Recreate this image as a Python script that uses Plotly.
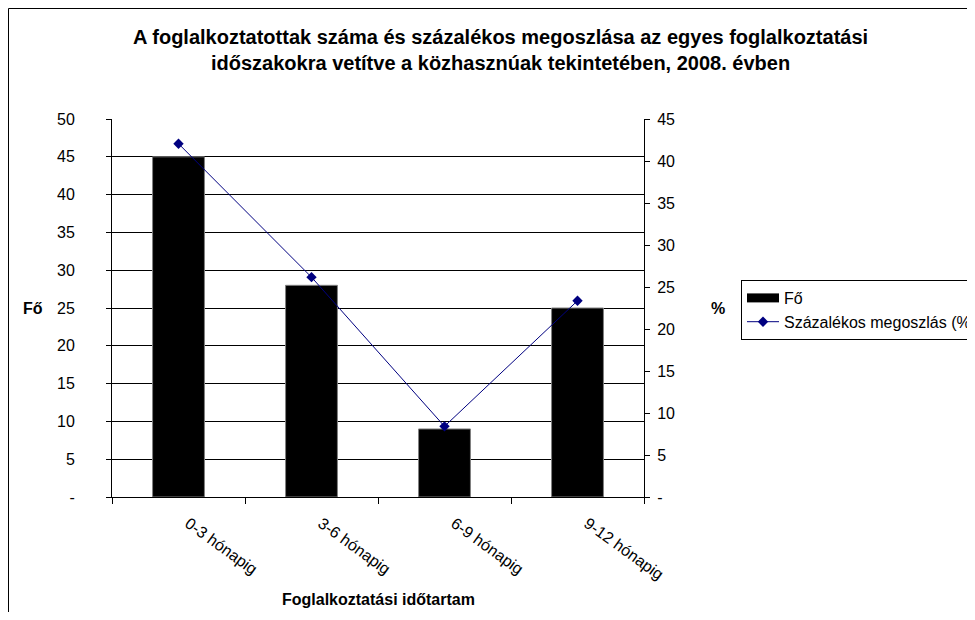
import plotly.graph_objects as go

categories = ["0-3 hónapig", "3-6 hónapig", "6-9 hónapig", "9-12 hónapig"]
fo_values = [45, 28, 9, 25]
pct_values = [42.06, 26.17, 8.41, 23.36]
left_ticks = [0, 5, 10, 15, 20, 25, 30, 35, 40, 45, 50]
left_ticktext = ["-", "5", "10", "15", "20", "25", "30", "35", "40", "45", "50"]
right_ticks = [0, 5, 10, 15, 20, 25, 30, 35, 40, 45]
right_ticktext = ["-", "5", "10", "15", "20", "25", "30", "35", "40", "45"]

FONT = "Liberation Sans, Arial, sans-serif"
OFF = 8  # page body margin

W, H = 959, 604
L, R, T, B = 104, 323, 111, 115
pw = W - L - R
ph = H - T - B


def px_x(x):
    return (x - OFF - L) / pw


def px_y(y):
    return (H - B - (y - OFF)) / ph


fig = go.Figure()
fig.add_trace(go.Bar(
    x=categories, y=fo_values, name="Fő",
    marker=dict(color="black", line=dict(color="#808080", width=1)),
    width=0.39, yaxis="y", showlegend=False,
))
# legend swatch for the bars (wide black rectangle, as in the original)
fig.add_trace(go.Scatter(
    x=[None], y=[None], name="Fő", mode="lines",
    line=dict(color="black", width=9), yaxis="y", showlegend=True,
))
fig.add_trace(go.Scatter(
    x=categories, y=pct_values, name="Százalékos megoszlás (%)",
    mode="lines+markers",
    line=dict(color="#000080", width=1),
    marker=dict(symbol="diamond", size=8, color="#000080"),
    yaxis="y2",
))

fig.update_layout(
    width=W, height=H,
    margin=dict(l=L, r=R, t=T, b=B, autoexpand=False),
    paper_bgcolor="white", plot_bgcolor="white",
    font=dict(family=FONT, size=16, color="black"),
    showlegend=True,
    legend=dict(
        x=px_x(741), y=px_y(280), xanchor="left", yanchor="top",
        bordercolor="black", borderwidth=1,
        font=dict(size=16, family=FONT),
        itemwidth=32,
    ),
    xaxis=dict(
        type="category", range=[-0.5, 3.5],
        tickson="boundaries", ticks="outside", ticklen=6, tickcolor="black",
        showline=True, linecolor="black", linewidth=1,
        tickangle=36, tickfont=dict(size=16),
        ticklabelstandoff=10, ticklabelshift=10,
        showgrid=False, zeroline=False, automargin=False,
    ),
    yaxis=dict(
        range=[0, 50], tickvals=left_ticks, ticktext=left_ticktext,
        ticks="outside", ticklen=5, tickcolor="black",
        showline=True, linecolor="black", linewidth=1,
        showgrid=True, gridcolor="black", gridwidth=1,
        zeroline=False, tickfont=dict(size=16), ticklabelstandoff=28,
        automargin=False,
    ),
    yaxis2=dict(
        range=[0, 45], tickvals=right_ticks, ticktext=right_ticktext,
        overlaying="y", side="right",
        ticks="outside", ticklen=5, tickcolor="black",
        showline=True, linecolor="black", linewidth=1,
        showgrid=False, zeroline=False, tickfont=dict(size=16),
        ticklabelstandoff=4, automargin=False,
    ),
)

fig.add_annotation(
    text="<b>A foglalkoztatottak száma és százalékos megoszlása az egyes foglalkoztatási<br>időszakokra vetítve a közhasznúak tekintetében, 2008. évben</b>",
    xref="paper", yref="paper", x=px_x(500), y=px_y(50),
    showarrow=False, font=dict(size=20, family=FONT), align="center",
    xanchor="center", yanchor="middle",
)
fig.add_annotation(text="<b>Fő</b>", xref="paper", yref="paper",
                   x=px_x(33), y=px_y(308), showarrow=False,
                   font=dict(size=16, family=FONT), xanchor="center", yanchor="middle")
fig.add_annotation(text="<b>%</b>", xref="paper", yref="paper",
                   x=px_x(718), y=px_y(308), showarrow=False,
                   font=dict(size=16, family=FONT), xanchor="center", yanchor="middle")
fig.add_annotation(text="<b>Foglalkoztatási időtartam</b>", xref="paper", yref="paper",
                   x=px_x(378), y=px_y(599), showarrow=False,
                   font=dict(size=16, family=FONT), xanchor="center", yanchor="middle")

fig.add_shape(type="rect", xref="paper", yref="paper",
              x0=px_x(8.5), y0=px_y(700), x1=px_x(1100), y1=px_y(8.5),
              line=dict(color="black", width=1), fillcolor="rgba(0,0,0,0)", layer="above")

fig.write_html("out.html")
